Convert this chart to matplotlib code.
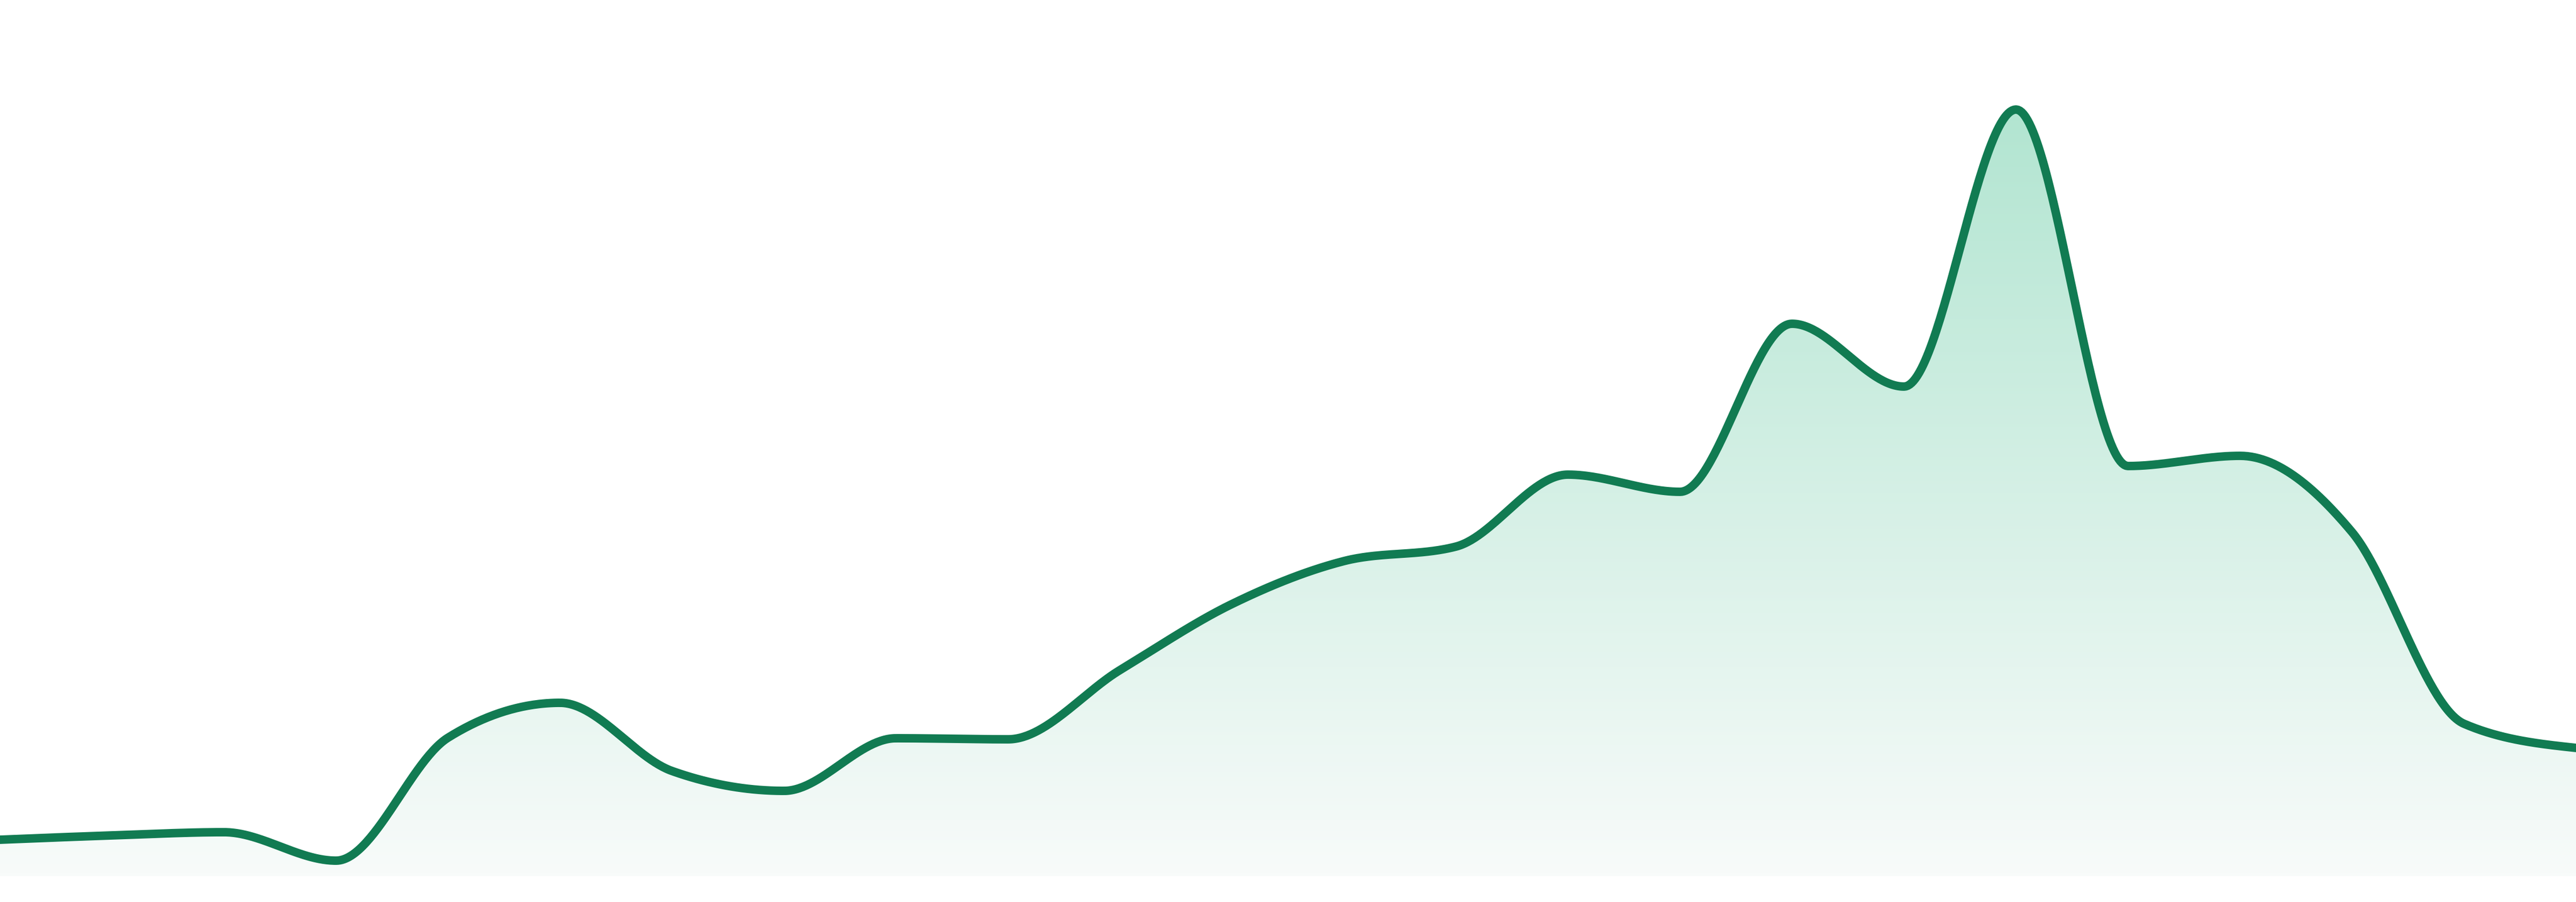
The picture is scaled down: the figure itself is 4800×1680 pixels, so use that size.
import numpy as np
import matplotlib
matplotlib.use('Agg')
import matplotlib.pyplot as plt
from matplotlib.colors import LinearSegmentedColormap

# values (height above the area baseline, in px of the 1680 px image)
values = [68, 76, 82, 29, 258, 323, 196, 159, 257, 255, 384, 507,
          587, 614, 748, 716, 1029, 912, 1428, 764, 783, 641, 284, 239]
line_color = '#117b52'
fill_top = '#b2e5d1'
fill_bottom = '#f8fbfa'


def monotone_x(x, y, steps=60):
    # same rule as d3.curveMonotoneX
    x = np.asarray(x, float)
    y = np.asarray(y, float)
    n = len(x)
    t = np.zeros(n)
    for i in range(1, n - 1):
        h0 = x[i] - x[i - 1]
        h1 = x[i + 1] - x[i]
        s0 = (y[i] - y[i - 1]) / h0
        s1 = (y[i + 1] - y[i]) / h1
        p = (s0 * h1 + s1 * h0) / (h0 + h1)
        t[i] = (np.sign(s0) + np.sign(s1)) * min(abs(s0), abs(s1), 0.5 * abs(p))
    h = x[1] - x[0]
    t[0] = (3 * (y[1] - y[0]) / h - t[1]) / 2
    h = x[-1] - x[-2]
    t[-1] = (3 * (y[-1] - y[-2]) / h - t[-2]) / 2
    px, py = [], []
    u = np.linspace(0, 1, steps)
    for i in range(n - 1):
        dx = (x[i + 1] - x[i]) / 3
        p0 = (x[i], y[i])
        p1 = (x[i] + dx, y[i] + dx * t[i])
        p2 = (x[i + 1] - dx, y[i + 1] - dx * t[i + 1])
        p3 = (x[i + 1], y[i + 1])
        b = [(1 - u) ** 3, 3 * (1 - u) ** 2 * u, 3 * (1 - u) * u ** 2, u ** 3]
        px.append(b[0] * p0[0] + b[1] * p1[0] + b[2] * p2[0] + b[3] * p3[0])
        py.append(b[0] * p0[1] + b[1] * p1[1] + b[2] * p2[1] + b[3] * p3[1])
    return np.concatenate(px), np.concatenate(py)


xs = np.arange(len(values))
cx, cy = monotone_x(xs, values)

fig = plt.figure(figsize=(16, 5.6), dpi=300)
ax = fig.add_axes([0, 0, 1, 1])
ax.set_xlim(0, len(values) - 1)
ax.set_ylim(-48, 1632)
ax.axis('off')

area = ax.fill_between(cx, cy, 0, color='none', lw=0)
cmap = LinearSegmentedColormap.from_list('g', [fill_bottom, fill_top])
grad = np.linspace(0, 1, 256).reshape(-1, 1)
im = ax.imshow(grad, extent=[0, len(values) - 1, 0, max(values)],
               aspect='auto', cmap=cmap, origin='lower', zorder=1)
im.set_clip_path(area.get_paths()[0], transform=ax.transData)

ax.plot(cx, cy, color=line_color, lw=3.8, zorder=3, solid_capstyle='round')

fig.savefig('out.png', dpi=300)
